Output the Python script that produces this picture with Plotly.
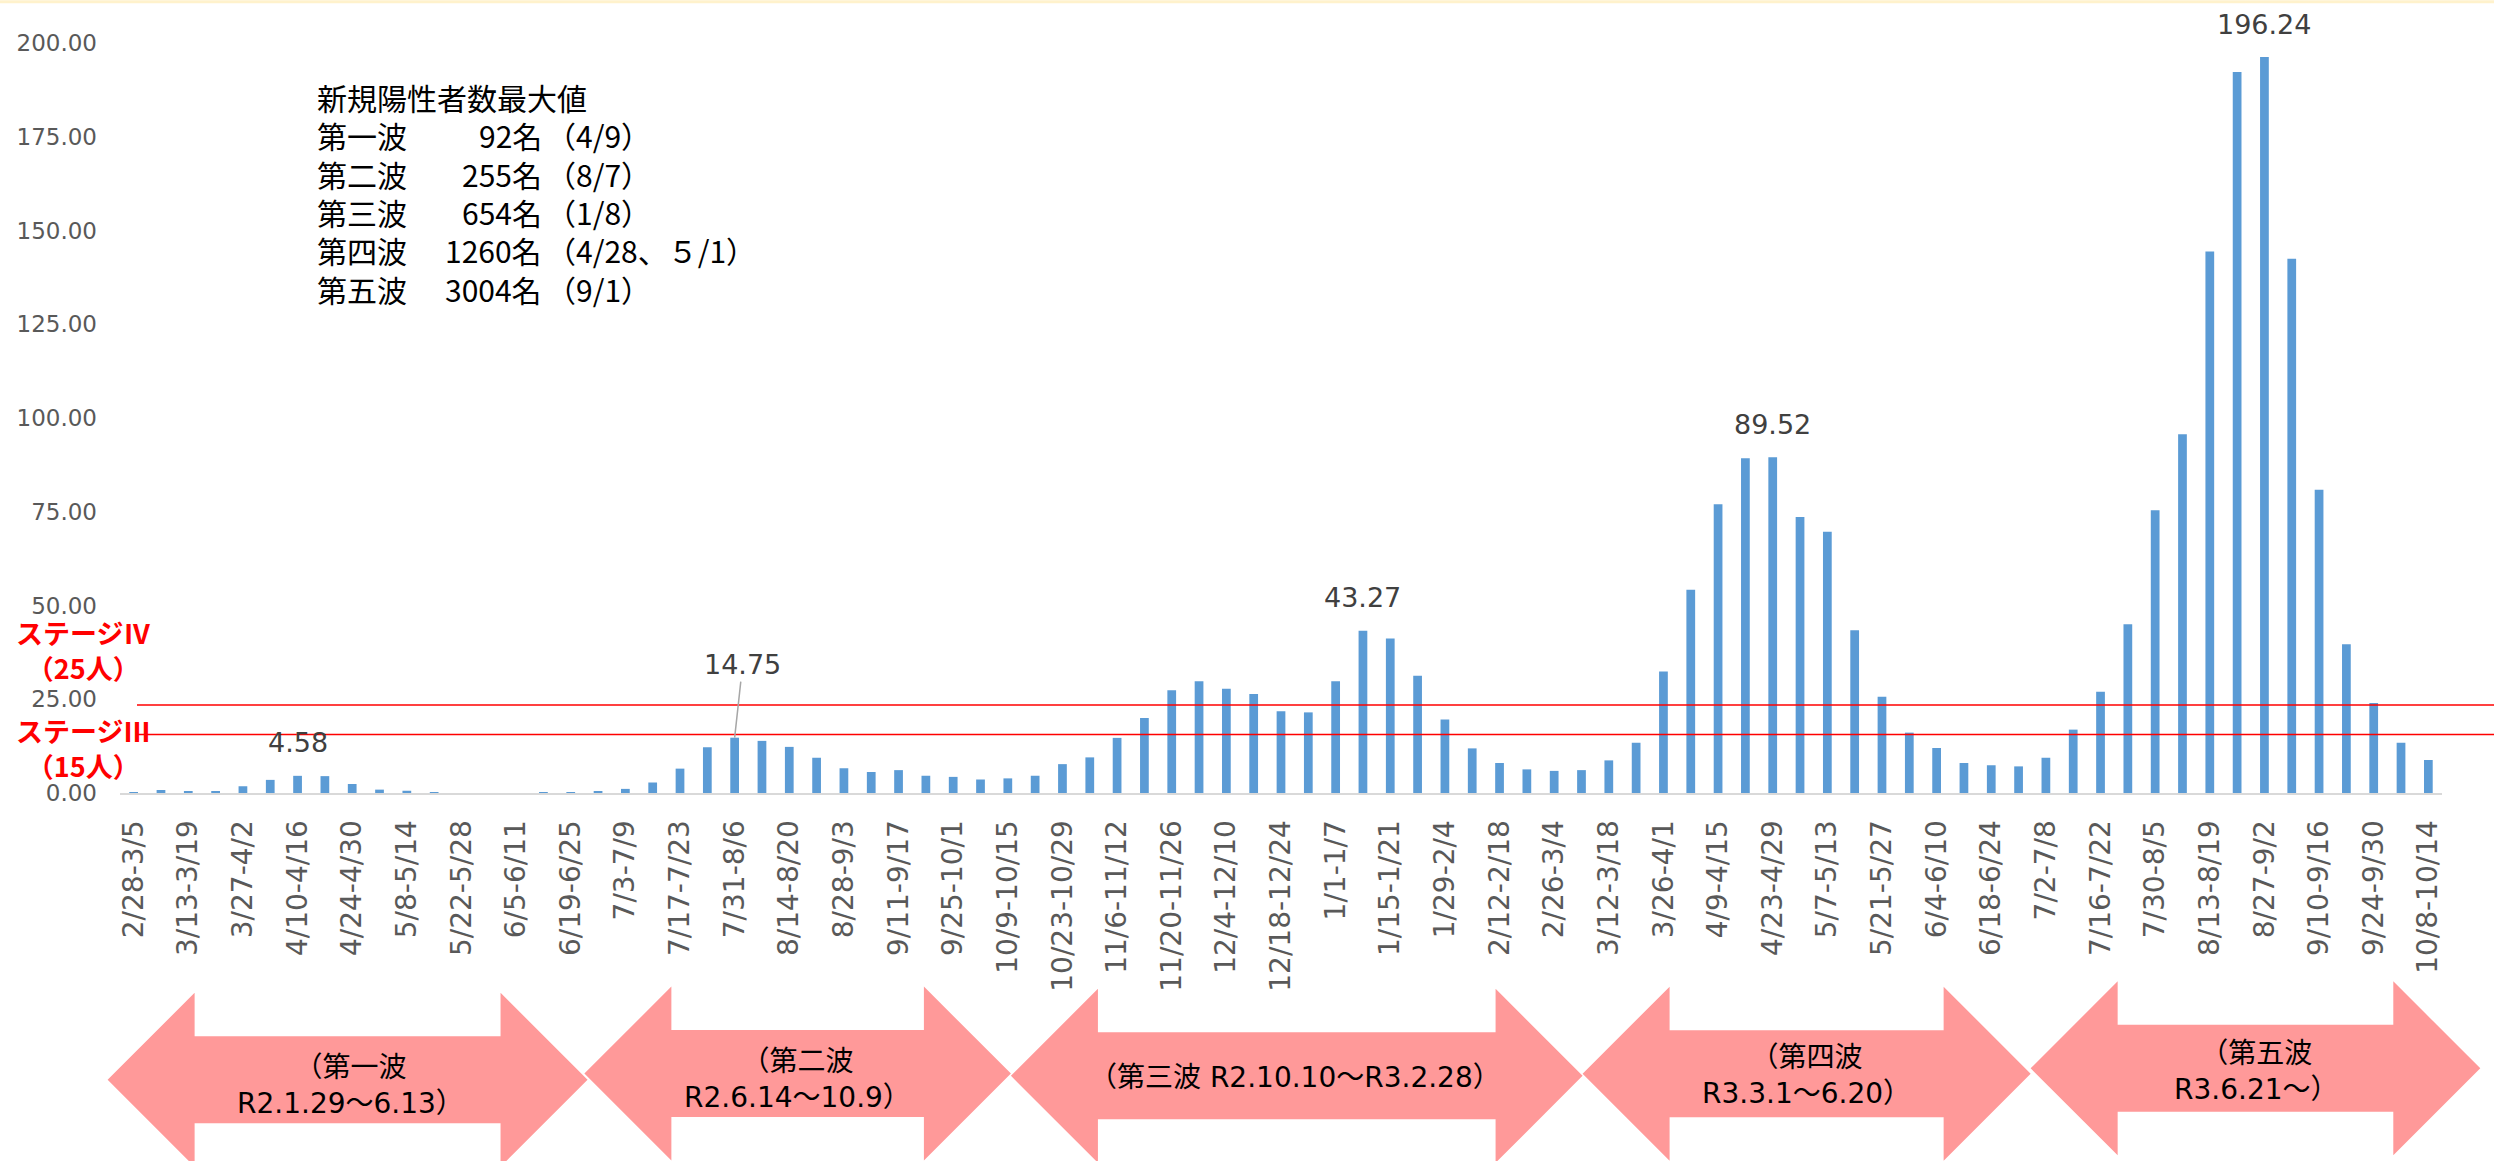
import plotly.graph_objects as go

# ---------------- data ----------------
weeks = [
    "2/28-3/5", "3/6-3/12", "3/13-3/19", "3/20-3/26", "3/27-4/2", "4/3-4/9", "4/10-4/16", "4/17-4/23",
    "4/24-4/30", "5/1-5/7", "5/8-5/14", "5/15-5/21", "5/22-5/28", "5/29-6/4", "6/5-6/11", "6/12-6/18",
    "6/19-6/25", "6/26-7/2", "7/3-7/9", "7/10-7/16", "7/17-7/23", "7/24-7/30", "7/31-8/6", "8/7-8/13",
    "8/14-8/20", "8/21-8/27", "8/28-9/3", "9/4-9/10", "9/11-9/17", "9/18-9/24", "9/25-10/1", "10/2-10/8",
    "10/9-10/15", "10/16-10/22", "10/23-10/29", "10/30-11/5", "11/6-11/12", "11/13-11/19", "11/20-11/26",
    "11/27-12/3", "12/4-12/10", "12/11-12/17", "12/18-12/24", "12/25-12/31", "1/1-1/7", "1/8-1/14",
    "1/15-1/21", "1/22-1/28", "1/29-2/4", "2/5-2/11", "2/12-2/18", "2/19-2/25", "2/26-3/4", "3/5-3/11",
    "3/12-3/18", "3/19-3/25", "3/26-4/1", "4/2-4/8", "4/9-4/15", "4/16-4/22", "4/23-4/29", "4/30-5/6",
    "5/7-5/13", "5/14-5/20", "5/21-5/27", "5/28-6/3", "6/4-6/10", "6/11-6/17", "6/18-6/24", "6/25-7/1",
    "7/2-7/8", "7/9-7/15", "7/16-7/22", "7/23-7/29", "7/30-8/5", "8/6-8/12", "8/13-8/19", "8/20-8/26",
    "8/27-9/2", "9/3-9/9", "9/10-9/16", "9/17-9/23", "9/24-9/30", "10/1-10/7", "10/8-10/14",
]

values = [
    0.1, 0.8, 0.3, 0.4, 1.8, 3.5, 4.58, 4.5, 2.4, 0.9,
    0.6, 0.2, 0.0, 0.0, 0.0, 0.1, 0.1, 0.45, 1.1, 2.8,
    6.5, 12.2, 14.75, 13.9, 12.3, 9.4, 6.6, 5.6, 6.1, 4.6,
    4.3, 3.6, 3.9, 4.6, 7.7, 9.5, 14.7, 20.0, 27.4, 29.8,
    27.8, 26.4, 21.8, 21.5, 29.8, 43.27, 41.2, 31.3, 19.6, 11.9,
    8.0, 6.3, 5.9, 6.1, 8.7, 13.4, 32.4, 54.2, 77.0, 89.3,
    89.52, 73.6, 69.7, 43.4, 25.7, 16.1, 12.0, 8.0, 7.4, 7.1,
    9.4, 16.9, 27.0, 45.0, 75.4, 95.7, 144.4, 192.3, 196.24, 142.5,
    80.9, 39.7, 24.0, 13.4, 8.8,
]

tick_labels = weeks[::2]
labelled_weeks = ["4/10-4/16", "7/31-8/6", "1/8-1/14", "4/23-4/29", "8/27-9/2"]

stage_levels = [23.5, 15.6]
stage_texts = ["<b>ステージⅣ<br>（25人）</b>", "<b>ステージⅢ<br>（15人）</b>"]

info_title = "新規陽性者数最大値"
wave_names = ["第一波", "第二波", "第三波", "第四波", "第五波"]
wave_max = ["92名", "255名", "654名", "1260名", "3004名"]
wave_max_dates = ["（4/9）", "（8/7）", "（1/8）", "（4/28、５/1）", "（9/1）"]

wave_periods = [
    "（第一波<br>R2.1.29～6.13）",
    "（第二波<br>R2.6.14～10.9）",
    "（第三波 R2.10.10～R3.2.28）",
    "（第四波<br>R3.3.1～6.20）",
    "（第五波<br>R3.6.21～）",
]

# ---------------- layout geometry (pixels) ----------------
W, H = 2494, 1161
L, R, T, B = 120, 2441.7, 42.7, 792.7


def px(x):
    return (x - L) / (R - L)


def py(y):
    return (B - y) / (B - T)


LATIN = "DejaVu Sans, Noto Sans CJK JP, sans-serif"
CJK = "Noto Sans CJK JP, sans-serif"

fig = go.Figure()
fig.add_trace(go.Bar(
    x=weeks, y=values,
    marker=dict(color="#5B9BD5", line=dict(width=0)),
    hoverinfo="x+y",
))

shapes = []
annotations = []

# top yellow border strip
shapes.append(dict(type="rect", xref="paper", yref="paper",
                   x0=px(0), x1=px(W), y0=py(0), y1=py(3),
                   fillcolor="#FFF2CC", line=dict(width=0), layer="below"))

# stage lines
for lvl in stage_levels:
    shapes.append(dict(type="line", xref="paper", yref="y",
                       x0=px(137), x1=px(W), y0=lvl, y1=lvl,
                       line=dict(color="#FF0000", width=1.5)))

# stage labels
for txt, yc in zip(stage_texts, [649.5, 747.5]):
    annotations.append(dict(xref="paper", yref="paper", x=px(83), y=py(yc),
                            text=txt, showarrow=False, xanchor="center", yanchor="middle",
                            align="center", font=dict(family=CJK, size=27, color="#FF0000")))

# data labels
for wk in labelled_weeks:
    v = values[weeks.index(wk)]
    if wk == "7/31-8/6":
        annotations.append(dict(x=wk, y=v, xref="x", yref="y", text=f"{v:.2f}",
                                showarrow=True, arrowhead=0, arrowwidth=1.5, arrowcolor="#A6A6A6",
                                ax=8, ay=-73, standoff=0,
                                font=dict(family=LATIN, size=27, color="#404040")))
    else:
        annotations.append(dict(x=wk, y=v, xref="x", yref="y", text=f"{v:.2f}",
                                showarrow=False, yanchor="middle", yshift=33,
                                font=dict(family=LATIN, size=27, color="#404040")))

# info text block
line_y = [96.7, 135.0, 173.3, 211.7, 250.0, 288.3]
annotations.append(dict(xref="paper", yref="paper", x=px(315), y=py(line_y[0]),
                        text=info_title, showarrow=False, xanchor="left", yanchor="middle",
                        font=dict(family=CJK, size=30, color="#000000")))
for i in range(len(wave_names)):
    yy = py(line_y[i + 1])
    annotations.append(dict(xref="paper", yref="paper", x=px(315), y=yy, text=wave_names[i],
                            showarrow=False, xanchor="left", yanchor="middle",
                            font=dict(family=CJK, size=30, color="#000000")))
    annotations.append(dict(xref="paper", yref="paper", x=px(544), y=yy, text=wave_max[i],
                            showarrow=False, xanchor="right", yanchor="middle",
                            font=dict(family=CJK, size=30, color="#000000")))
    annotations.append(dict(xref="paper", yref="paper", x=px(544), y=yy, text=wave_max_dates[i],
                            showarrow=False, xanchor="left", yanchor="middle",
                            font=dict(family=CJK, size=30, color="#000000")))

# double-headed wave arrows
arrow_geo = [  # left tip, right tip, center y
    (107.6, 587.5, 1079.5),
    (584.3, 1010.8, 1073.3),
    (1010.8, 1582.4, 1075.5),
    (1582.4, 2030.4, 1073.4),
    (2030.4, 2480.0, 1068.0),
]
text_centers = [(350, 1085), (797, 1079.2), (1295, 1076.7), (1806, 1074.7), (2256, 1070.8)]
HEAD, HH, SH = 87, 87, 43.5
for (xl, xr, cy), txt, (tx, ty) in zip(arrow_geo, wave_periods, text_centers):
    pts = [
        (xl, cy), (xl + HEAD, cy - HH), (xl + HEAD, cy - SH), (xr - HEAD, cy - SH),
        (xr - HEAD, cy - HH), (xr, cy), (xr - HEAD, cy + HH), (xr - HEAD, cy + SH),
        (xl + HEAD, cy + SH), (xl + HEAD, cy + HH),
    ]
    path = "M " + " L ".join(f"{px(a):.6f},{py(b):.6f}" for a, b in pts) + " Z"
    shapes.append(dict(type="path", xref="paper", yref="paper", path=path,
                       fillcolor="#FF9999", line=dict(width=0), layer="below"))
    annotations.append(dict(xref="paper", yref="paper", x=px(tx), y=py(ty), text=txt,
                            showarrow=False, xanchor="center", yanchor="middle", align="center",
                            font=dict(family=LATIN, size=28, color="#000000")))

fig.update_layout(
    width=W, height=H,
    margin=dict(l=L, r=W - R, t=T, b=H - B, pad=0),
    paper_bgcolor="#FFFFFF", plot_bgcolor="#FFFFFF",
    bargap=0.68,
    showlegend=False,
    shapes=shapes,
    annotations=annotations,
    xaxis=dict(
        type="category",
        categoryorder="array", categoryarray=weeks,
        range=[-0.5, len(weeks) - 0.5],
        tickmode="array", tickvals=tick_labels, ticktext=tick_labels,
        tickangle=-90,
        tickfont=dict(family=LATIN, size=28, color="#595959"),
        showline=True, linecolor="#D9D9D9", linewidth=2,
        showgrid=False, zeroline=False, ticks="",
        ticklabelstandoff=14,
    ),
    yaxis=dict(
        range=[0, 200], dtick=25, tick0=0, tickformat=".2f",
        tickfont=dict(family=LATIN, size=23, color="#595959"),
        showline=False, showgrid=False, zeroline=False, ticks="",
        ticklabelstandoff=22,
    ),
)

fig.write_html("out.html",
               config={"displayModeBar": False},
               post_script="document.body.style.margin='0';document.body.style.overflow='hidden';")
